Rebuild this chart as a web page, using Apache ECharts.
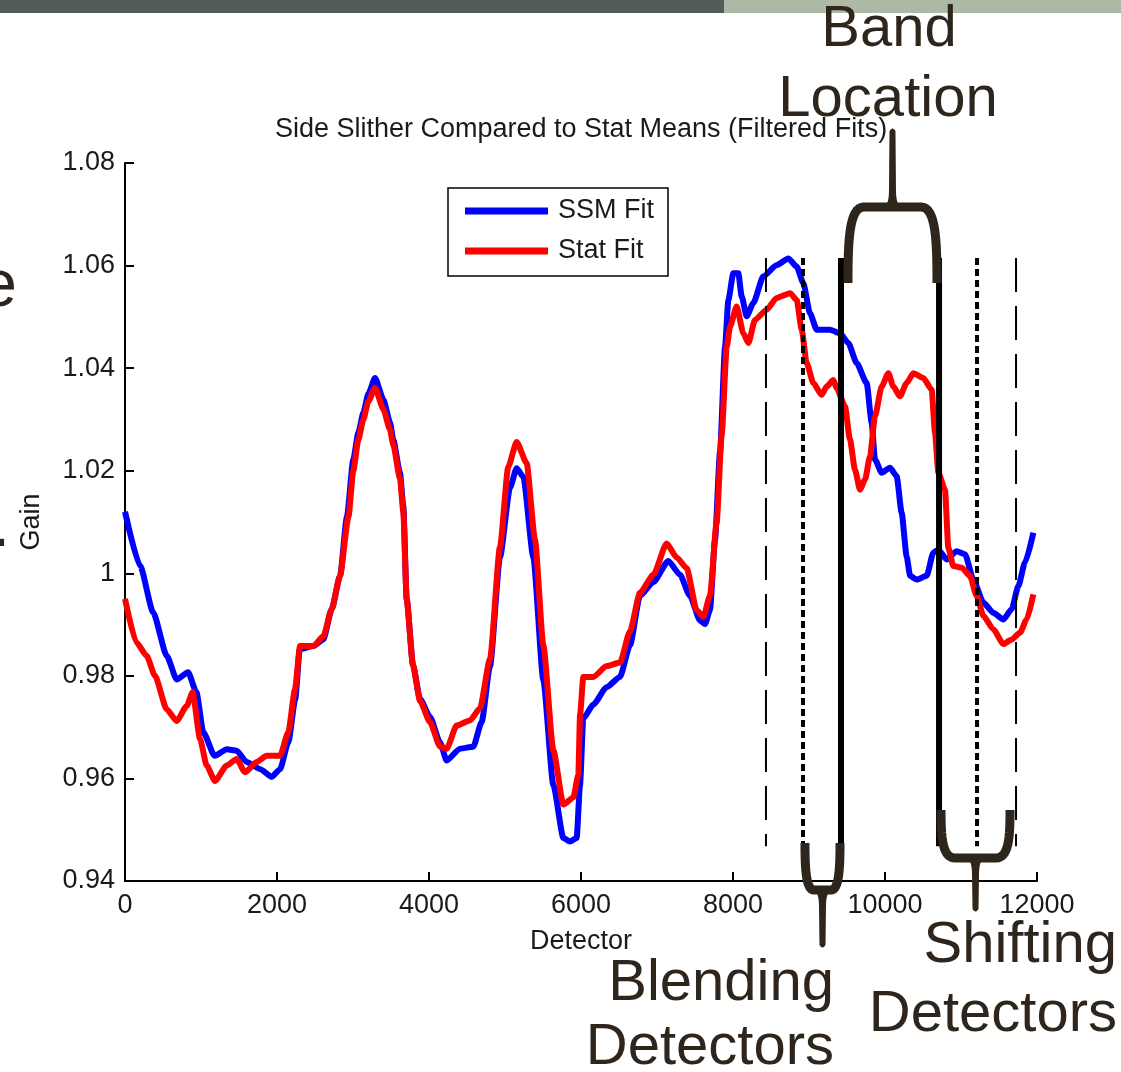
<!DOCTYPE html>
<html>
<head>
<meta charset="utf-8">
<title>Side Slither Compared to Stat Means</title>
<script src="https://cdn.jsdelivr.net/npm/echarts@6/dist/echarts.min.js"></script>
<style>
  html, body { margin: 0; padding: 0; background: #ffffff; }
  #chart { width: 1121px; height: 1072px; }
</style>
</head>
<body>
<div id="chart"></div>
<script>
// Side-slither (SSM) gain fit across detectors
const ssmDetector = [0, 200, 370, 550, 680, 830, 940, 1030, 1180, 1340, 1470, 1600, 1780, 1930, 2040, 2150, 2240, 2300, 2480, 2610, 2720, 2830, 2920, 3004, 3070, 3136, 3202, 3290, 3399, 3487, 3530, 3618, 3662, 3706, 3790, 3882, 4013, 4145, 4232, 4408, 4583, 4693, 4803, 4934, 5066, 5153, 5241, 5373, 5504, 5636, 5768, 5855, 5943, 5987, 6030, 6162, 6338, 6513, 6645, 6776, 6952, 7149, 7303, 7434, 7566, 7632, 7697, 7763, 7829, 7895, 7939, 8004, 8070, 8114, 8180, 8268, 8399, 8575, 8728, 8838, 8925, 9013, 9101, 9276, 9408, 9517, 9627, 9759, 9825, 9868, 9956, 10066, 10154, 10219, 10285, 10330, 10417, 10548, 10636, 10702, 10812, 10943, 11053, 11162, 11294, 11425, 11557, 11667, 11754, 11842, 11952];
const ssmGain = [1.0120, 1.0014, 0.9924, 0.9839, 0.9793, 0.9807, 0.9768, 0.9690, 0.9644, 0.9657, 0.9654, 0.9632, 0.9618, 0.9603, 0.9618, 0.9671, 0.9754, 0.9852, 0.9858, 0.9871, 0.9930, 0.9995, 1.0110, 1.0222, 1.0274, 1.0313, 1.0350, 1.0381, 1.0339, 1.0294, 1.0260, 1.0196, 1.0131, 0.9950, 0.9820, 0.9755, 0.9720, 0.9670, 0.9635, 0.9658, 0.9662, 0.9710, 0.9819, 1.0031, 1.0167, 1.0205, 1.0188, 1.0031, 0.9792, 0.9587, 0.9484, 0.9477, 0.9484, 0.9587, 0.9717, 0.9744, 0.9778, 0.9798, 0.9860, 0.9956, 0.9983, 1.0024, 0.9997, 0.9956, 0.9908, 0.9901, 0.9928, 1.0065, 1.0236, 1.0441, 1.0533, 1.0585, 1.0585, 1.0540, 1.0501, 1.0527, 1.0579, 1.0601, 1.0614, 1.0598, 1.0566, 1.0507, 1.0475, 1.0475, 1.0468, 1.0449, 1.0410, 1.0371, 1.0293, 1.0222, 1.0196, 1.0206, 1.0189, 1.0118, 1.0033, 0.9995, 0.9988, 0.9995, 1.0040, 1.0046, 1.0027, 1.0043, 1.0037, 0.9988, 0.9943, 0.9923, 0.9910, 0.9930, 0.9975, 1.0021, 1.0079];

// Stat-means gain fit across detectors
const statDetector = [0, 150, 285, 395, 548, 680, 811, 890, 987, 1075, 1184, 1338, 1469, 1579, 1732, 1864, 2039, 2149, 2237, 2303, 2478, 2610, 2719, 2829, 2940, 3004, 3070, 3136, 3202, 3290, 3399, 3487, 3530, 3618, 3662, 3706, 3790, 3882, 4013, 4145, 4232, 4364, 4539, 4671, 4803, 4934, 5043, 5153, 5285, 5395, 5504, 5636, 5768, 5899, 5965, 5987, 6030, 6162, 6338, 6513, 6645, 6776, 6952, 7127, 7259, 7390, 7522, 7610, 7697, 7785, 7851, 7917, 7961, 8048, 8136, 8202, 8289, 8443, 8575, 8750, 8838, 8904, 8969, 9057, 9167, 9232, 9320, 9364, 9474, 9539, 9605, 9671, 9737, 9803, 9868, 9956, 10044, 10110, 10197, 10285, 10373, 10504, 10614, 10658, 10702, 10789, 10833, 10899, 11009, 11118, 11206, 11294, 11425, 11557, 11667, 11776, 11864, 11952];
const statGain = [0.9950, 0.9865, 0.9839, 0.9800, 0.9735, 0.9712, 0.9741, 0.9768, 0.9677, 0.9625, 0.9595, 0.9625, 0.9638, 0.9612, 0.9632, 0.9644, 0.9644, 0.9690, 0.9774, 0.9858, 0.9858, 0.9877, 0.9930, 0.9995, 1.0110, 1.0200, 1.0260, 1.0300, 1.0335, 1.0362, 1.0320, 1.0280, 1.0250, 1.0185, 1.0120, 0.9950, 0.9820, 0.9751, 0.9710, 0.9662, 0.9658, 0.9703, 0.9713, 0.9737, 0.9833, 1.0051, 1.0208, 1.0256, 1.0215, 1.0065, 0.9860, 0.9655, 0.9549, 0.9563, 0.9607, 0.9723, 0.9798, 0.9798, 0.9819, 0.9826, 0.9887, 0.9962, 0.9997, 1.0058, 1.0031, 1.0010, 0.9928, 0.9915, 0.9956, 1.0099, 1.0270, 1.0441, 1.0481, 1.0520, 1.0468, 1.0449, 1.0494, 1.0514, 1.0537, 1.0546, 1.0533, 1.0475, 1.0410, 1.0371, 1.0348, 1.0364, 1.0377, 1.0361, 1.0325, 1.0261, 1.0202, 1.0163, 1.0183, 1.0228, 1.0306, 1.0364, 1.0390, 1.0364, 1.0345, 1.0371, 1.0390, 1.0381, 1.0358, 1.0274, 1.0196, 1.0163, 1.0050, 1.0014, 1.0011, 0.9995, 0.9956, 0.9917, 0.9891, 0.9862, 0.9871, 0.9884, 0.9910, 0.9959];

// Detector boundaries marked with vertical lines
const outerEdges = [8434, 11724];      // long dashes
const blendEdges = [8921, 11211];      // short dashes
const bandEdges = [9421, 10711];       // solid
const markerSpan = [1.0615, 0.9468];   // gain range covered by the markers

// Axis ticks
const xTicks = [0, 2000, 4000, 6000, 8000, 10000, 12000];
const yTicks = [0.94, 0.96, 0.98, 1.00, 1.02, 1.04, 1.06, 1.08];

const zip = (xs, ys) => xs.map((x, i) => [x, ys[i]]);

const FONT = '"Liberation Sans", Arial, sans-serif';
const INK = '#2e251c';
const TXT = '#1a1a1a';

const markerSeries = [];
function addMarkers(edges, style) {
  edges.forEach(x => {
    markerSeries.push({
      type: 'line',
      data: markerSpan.map(g => [x, g]),
      symbol: 'none',
      silent: true,
      z: 5,
      lineStyle: Object.assign({ color: '#000000' }, style)
    });
  });
}
addMarkers(outerEdges, { width: 2, type: [34, 14] });
addMarkers(blendEdges, { width: 4, type: [7, 4] });
addMarkers(bandEdges, { width: 6, type: 'solid' });

const chart = echarts.init(document.getElementById('chart'), null, { renderer: 'canvas' });

chart.setOption({
  backgroundColor: '#ffffff',
  animation: false,
  title: {
    text: 'Side Slither Compared to Stat Means (Filtered Fits)',
    left: 576,
    textAlign: 'center',
    top: 111,
    textStyle: { fontFamily: FONT, fontSize: 27, fontWeight: 'normal', color: TXT }
  },
  legend: {
    data: ['SSM Fit', 'Stat Fit'],
    orient: 'vertical',
    left: 448,
    top: 188,
    padding: [8, 14, 10, 17],
    itemGap: 10,
    itemWidth: 83,
    itemHeight: 7,
    icon: 'rect',
    borderColor: '#000000',
    borderWidth: 1.5,
    backgroundColor: '#ffffff',
    textStyle: { fontFamily: FONT, fontSize: 27, color: TXT, lineHeight: 30, padding: [0, 0, 0, 5] }
  },
  grid: { left: 125, right: 84, top: 163, bottom: 191, containLabel: false },
  xAxis: {
    type: 'value',
    min: xTicks[0],
    max: xTicks[xTicks.length - 1],
    interval: 2000,
    name: 'Detector',
    nameLocation: 'middle',
    nameGap: 47,
    nameTextStyle: { fontFamily: FONT, fontSize: 27, color: TXT },
    axisLine: { show: true, onZero: false, lineStyle: { color: '#000000', width: 2 } },
    axisTick: { show: true, inside: true, length: 9, lineStyle: { color: '#000000', width: 2 } },
    axisLabel: { fontFamily: FONT, fontSize: 27, color: TXT, margin: 11, formatter: v => String(v) },
    splitLine: { show: false }
  },
  yAxis: {
    type: 'value',
    min: yTicks[0],
    max: yTicks[yTicks.length - 1],
    interval: 0.02,
    name: 'Gain',
    nameLocation: 'middle',
    nameGap: 80,
    nameRotate: 90,
    nameTextStyle: { fontFamily: FONT, fontSize: 27, color: TXT },
    axisLine: { show: true, onZero: false, lineStyle: { color: '#000000', width: 2 } },
    axisTick: { show: true, inside: true, length: 9, lineStyle: { color: '#000000', width: 2 } },
    axisLabel: {
      fontFamily: FONT, fontSize: 27, color: TXT, margin: 10,
      formatter: v => String(+v.toFixed(2))
    },
    splitLine: { show: false }
  },
  series: [
    {
      name: 'SSM Fit',
      type: 'line',
      data: zip(ssmDetector, ssmGain),
      symbol: 'none',
      smooth: 0.2,
      smoothMonotone: 'x',
      z: 3,
      color: '#0000ff',
      lineStyle: { color: '#0000ff', width: 6 }
    },
    {
      name: 'Stat Fit',
      type: 'line',
      data: zip(statDetector, statGain),
      symbol: 'none',
      smooth: 0.2,
      smoothMonotone: 'x',
      z: 4,
      color: '#ff0000',
      lineStyle: { color: '#ff0000', width: 6 }
    }
  ].concat(markerSeries)
});

// Curly braces pointing at detector groups; leg positions come from the axis scale
function px(detector) {
  return chart.convertToPixel({ gridIndex: 0 }, [detector, 1])[0];
}
function cubic(p0, p1, p2, p3, n) {
  const pts = [];
  for (let i = 1; i <= n; i++) {
    const t = i / n, u = 1 - t;
    pts.push([
      u * u * u * p0[0] + 3 * u * u * t * p1[0] + 3 * u * t * t * p2[0] + t * t * t * p3[0],
      u * u * u * p0[1] + 3 * u * u * t * p1[1] + 3 * u * t * t * p2[1] + t * t * t * p3[1]
    ]);
  }
  return pts;
}
function quad(p0, c, p1, n) {
  return cubic(p0,
    [p0[0] + 2 / 3 * (c[0] - p0[0]), p0[1] + 2 / 3 * (c[1] - p0[1])],
    [p1[0] + 2 / 3 * (c[0] - p1[0]), p1[1] + 2 / 3 * (c[1] - p1[1])],
    p1, n);
}
function brace(detA, detB, yLeg, yBar, yTip, r) {
  const xa = px(detA), xb = px(detB), xc = (xa + xb) / 2;
  const d = Math.sign(yLeg - yBar);
  const k = Math.abs(yLeg - yBar) * 0.45;
  // arms
  let arm = [[xa, yLeg]];
  arm = arm.concat(cubic([xa, yLeg], [xa, yBar + d * k], [xa + 1, yBar], [xa + r, yBar], 16));
  arm.push([xb - r, yBar]);
  arm = arm.concat(cubic([xb - r, yBar], [xb - 1, yBar], [xb, yBar + d * k], [xb, yLeg], 16));
  // tapered stem
  const s = Math.sign(yTip - yBar);
  const w = 12, y0 = yBar - s * 3;
  let stem = [[xc - w, y0]];
  stem = stem.concat(quad([xc - w, y0], [xc - 3.5, yBar], [xc - 3.5, yBar + s * 16], 10));
  stem.push([xc - 3, yTip - s * 3]);
  stem = stem.concat(quad([xc - 3, yTip - s * 3], [xc, yTip + s * 2], [xc + 3, yTip - s * 3], 8));
  stem.push([xc + 3.5, yBar + s * 16]);
  stem = stem.concat(quad([xc + 3.5, yBar + s * 16], [xc + 3.5, yBar], [xc + w, y0], 10));
  return [
    { type: 'polyline', z: 100, silent: true, shape: { points: arm },
      style: { fill: null, stroke: INK, lineWidth: 9, lineCap: 'butt', lineJoin: 'round' } },
    { type: 'polygon', z: 100, silent: true, shape: { points: stem },
      style: { fill: INK, stroke: null } }
  ];
}
// Slide captions, placed by their baseline
function label(text, x, baseline, align, size) {
  const fs = size || 58;
  return { type: 'text', z: 100, silent: true, x: x, y: baseline - 0.83 * fs,
    style: { text: text, fill: INK, font: fs + 'px ' + FONT, textAlign: align } };
}

const graphics = [
  { type: 'rect', z: 90, silent: true, shape: { x: 0, y: 0, width: 724, height: 13 }, style: { fill: '#515b59' } },
  { type: 'rect', z: 90, silent: true, shape: { x: 724, y: 0, width: 397, height: 13 }, style: { fill: '#adb8a7' } },
  label('Band', 889, 49, 'center'),
  label('Location', 888, 119, 'center'),
  label('Blending', 834, 1003, 'right'),
  label('Detectors', 834, 1067, 'right'),
  label('Shifting', 1117, 965, 'right'),
  label('Detectors', 1117, 1034, 'right'),
  label('e', 17, 310, 'right', 66),
  label('.', 10, 550, 'right', 66)
]
  .concat(brace(9513, 10684, 283, 207, 128, 16))
  .concat(brace(8947, 9408, 843, 890, 948, 9))
  .concat(brace(10737, 11645, 810, 858, 912, 14));

chart.setOption({ graphic: graphics });
</script>
</body>
</html>
